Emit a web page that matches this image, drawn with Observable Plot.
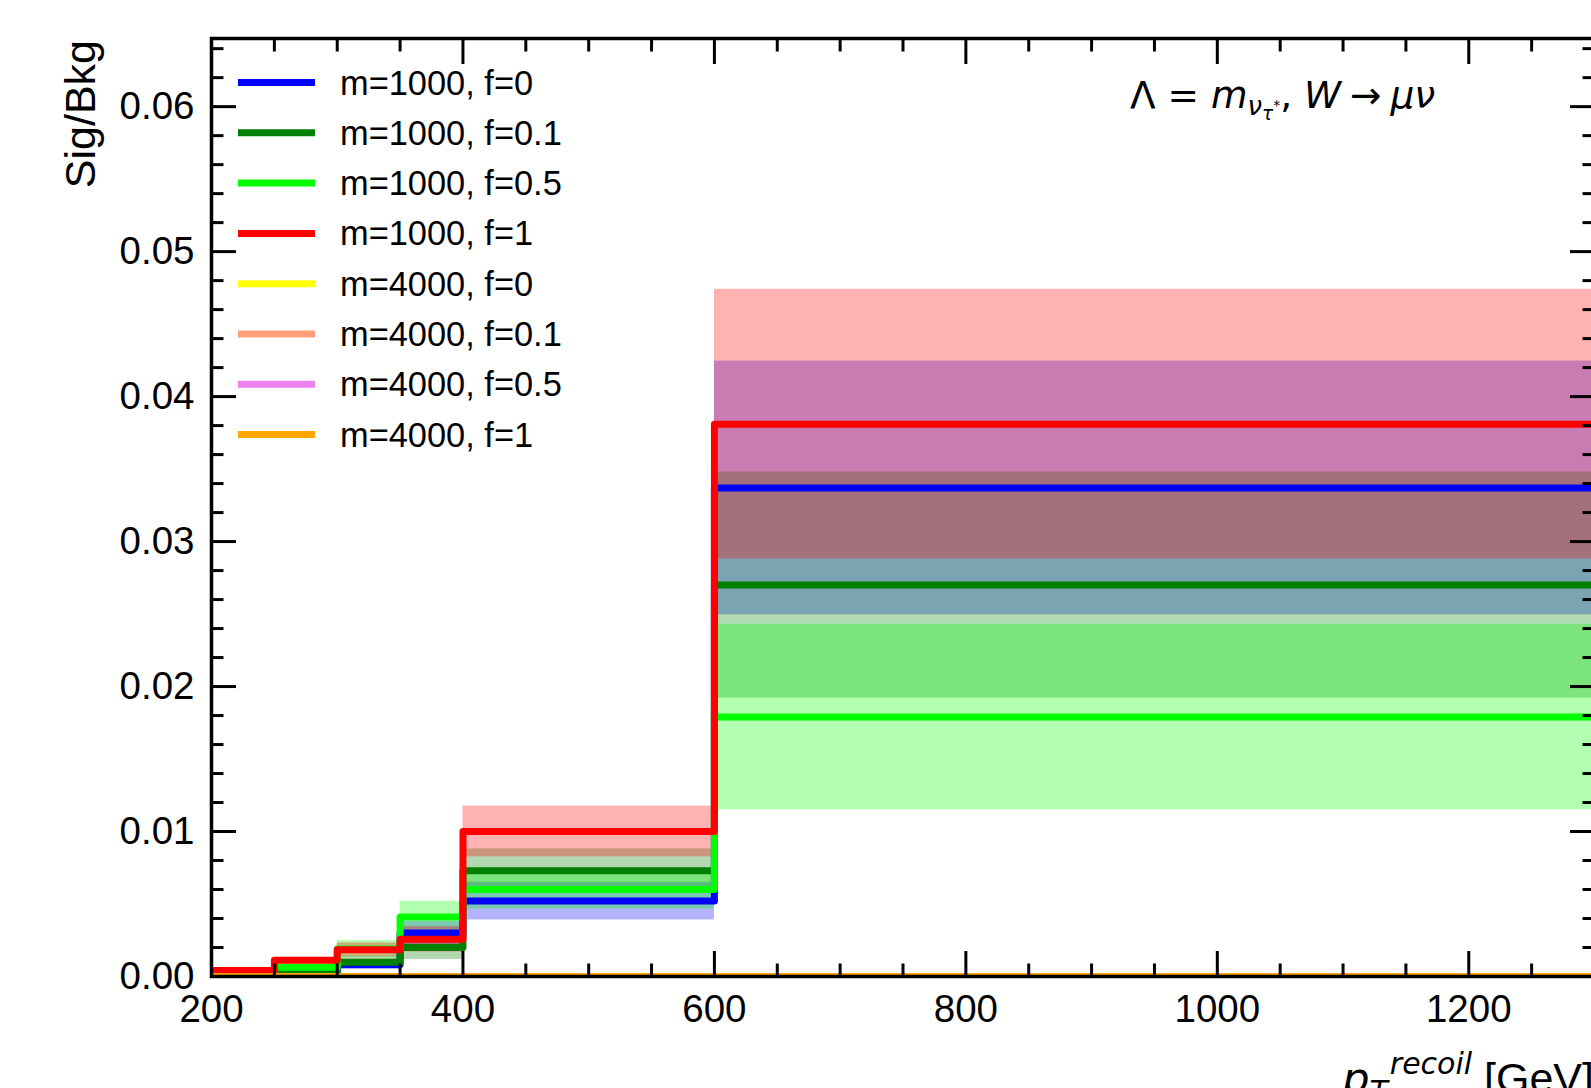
<!DOCTYPE html>
<html><head><meta charset="utf-8">
<script src="https://cdn.jsdelivr.net/npm/d3@7"></script>
<script src="https://cdn.jsdelivr.net/npm/@observablehq/plot@0.6"></script>
<style>
html,body{margin:0;padding:0;background:#fff;overflow:hidden;}
#chart svg{display:block;}
</style></head><body><div id="chart"></div>
<script>
// ---- data ----
const binEdges = [200, 250, 300, 350, 400, 600, 1300];
const seriesLabels = ["m=1000, f=0", "m=1000, f=0.1", "m=1000, f=0.5", "m=1000, f=1",
                      "m=4000, f=0", "m=4000, f=0.1", "m=4000, f=0.5", "m=4000, f=1"];
const seriesColors = ["blue", "green", "lime", "red", "yellow", "lightsalmon", "violet", "orange"];
const valM1000F0  = [0.00002, 0.0002, 0.00083, 0.0030, 0.0052, 0.0337];
const errM1000F0  = [0.00001, 0.0001, 0.00035, 0.0008, 0.0013, 0.00875];
const valM1000F01 = [0.00005, 0.00028, 0.00099, 0.0020, 0.0073, 0.0270];
const errM1000F01 = [0.00003, 0.00015, 0.0004, 0.00083, 0.0015, 0.0078];
const valM1000F05 = [0.0001, 0.00064, 0.0019, 0.0041, 0.0060, 0.0179];
const errM1000F05 = [0.00005, 0.0002, 0.00058, 0.0011, 0.00136, 0.0064];
const valM1000F1  = [0.00041, 0.00112, 0.00184, 0.00257, 0.0100, 0.0381];
const errM1000F1  = [0.0001, 0.0002, 0.00048, 0.00088, 0.00175, 0.0093];
const valM4000F0  = [0, 0, 0, 0, 0, 0];
const errM4000F0  = [0, 0, 0, 0, 0, 0];
const valM4000F01 = [0, 0, 0, 0, 0, 0];
const errM4000F01 = [0, 0, 0, 0, 0, 0];
const valM4000F05 = [0, 0, 0, 0, 0, 0];
const errM4000F05 = [0, 0, 0, 0, 0, 0];
const valM4000F1  = [0, 0, 0, 0, 0, 0];
const errM4000F1  = [0, 0, 0, 0, 0, 0];

const xMajorTicks = [200, 400, 600, 800, 1000, 1200];
const xMinorTicks = [250, 300, 350, 450, 500, 550, 650, 700, 750, 850, 900, 950, 1050, 1100, 1150, 1250, 1300];
const yMajorTicks = [0, 0.01, 0.02, 0.03, 0.04, 0.05, 0.06];
const yMinorTicks = [0.002, 0.004, 0.006, 0.008, 0.012, 0.014, 0.016, 0.018, 0.022, 0.024, 0.026, 0.028,
                     0.032, 0.034, 0.036, 0.038, 0.042, 0.044, 0.046, 0.048, 0.052, 0.054, 0.056, 0.058,
                     0.062, 0.064];
const xLabelMain = "p";
const xLabelSub = "T";
const xLabelSup = "recoil";
const xLabelUnit = " [GeV]";
const yLabel = "Sig/Bkg";

// ---- build tables ----
const vals = [valM1000F0, valM1000F01, valM1000F05, valM1000F1, valM4000F0, valM4000F01, valM4000F05, valM4000F1];
const errs = [errM1000F0, errM1000F01, errM1000F05, errM1000F1, errM4000F0, errM4000F01, errM4000F05, errM4000F1];
const series = seriesLabels.map((label, k) => ({label, color: seriesColors[k], values: vals[k], errors: errs[k]}));
const bandRows = [];
series.forEach(s => s.values.forEach((v, i) => {
  if (s.errors[i] > 0) bandRows.push({series: s.label, x1: binEdges[i], x2: binEdges[i + 1], y1: v - s.errors[i], y2: v + s.errors[i]});
}));
const stepRows = s => s.values.map((v, i) => ({x: binEdges[i], y: v}))
  .concat([{x: binEdges[binEdges.length - 1], y: s.values[s.values.length - 1]}]);

const W = 1591, H = 1088;
const FONT = "'Liberation Sans', Arial, Helvetica, sans-serif";
const MATH = "'DejaVu Sans', sans-serif";
const tickFont = 38.5;
const LW = 7;

const chart = Plot.plot({
  width: W, height: H,
  marginLeft: 211, marginRight: -3, marginTop: 38, marginBottom: 112,
  x: {domain: [200, 1300], range: [211, 1594]},
  y: {domain: [0, 0.0647], range: [976, 38]},
  color: {domain: seriesLabels, range: seriesColors},
  style: {fontFamily: FONT, background: "white", color: "black", overflow: "hidden"},
  marks: [
    Plot.rect(bandRows, {x1: "x1", x2: "x2", y1: "y1", y2: "y2", fill: "series", fillOpacity: 0.3, clip: true}),
    ...series.map(s => Plot.line(stepRows(s), {x: "x", y: "y", stroke: s.color, strokeWidth: LW, curve: "step-after", clip: true})),
    // inward ticks on all four sides
    Plot.axisX(xMajorTicks, {anchor: "bottom", tickSize: -25, fill: "none", strokeWidth: 3, label: null}),
    Plot.axisX(xMinorTicks, {anchor: "bottom", tickSize: -12.5, fill: "none", strokeWidth: 3, label: null}),
    Plot.axisX(xMajorTicks, {anchor: "top", tickSize: -25, fill: "none", strokeWidth: 3, label: null}),
    Plot.axisX(xMinorTicks, {anchor: "top", tickSize: -12.5, fill: "none", strokeWidth: 3, label: null}),
    Plot.axisY(yMajorTicks, {anchor: "left", tickSize: -25, fill: "none", strokeWidth: 3, label: null}),
    Plot.axisY(yMinorTicks, {anchor: "left", tickSize: -12.5, fill: "none", strokeWidth: 3, label: null}),
    Plot.axisY(yMajorTicks, {anchor: "right", tickSize: -25, fill: "none", strokeWidth: 3, label: null}),
    Plot.axisY(yMinorTicks, {anchor: "right", tickSize: -12.5, fill: "none", strokeWidth: 3, label: null}),
    // tick labels
    Plot.axisX(xMajorTicks, {anchor: "bottom", tickSize: 0, tickPadding: 18, fontSize: tickFont, tickFormat: d => String(d), label: null}),
    Plot.axisY(yMajorTicks, {anchor: "left", tickSize: 0, tickPadding: 17, fontSize: tickFont, tickFormat: d3.format(".2f"), label: null}),
    Plot.frame({stroke: "black", strokeWidth: 3.5})
  ]
});
document.getElementById("chart").appendChild(chart);

const svg = d3.select(chart);

// legend
const legendY0 = 82.5, legendDY = 50.3;
const lg = svg.append("g").attr("font-family", FONT).attr("font-size", 34.4).attr("text-anchor", "start");
series.forEach((s, i) => {
  const y = legendY0 + i * legendDY;
  lg.append("line").attr("x1", 238).attr("x2", 315).attr("y1", y).attr("y2", y)
    .attr("stroke", s.color).attr("stroke-width", LW);
  lg.append("text").attr("x", 340).attr("y", y + 12).attr("fill", "black").text(s.label);
});

// annotation
const ann = svg.append("text").attr("x", 1130).attr("y", 108).attr("text-anchor", "start")
  .attr("font-family", MATH).attr("font-size", 37.5).attr("fill", "black").style("white-space", "pre");
ann.append("tspan").text("Λ = ");
ann.append("tspan").attr("font-style", "italic").text("m");
ann.append("tspan").attr("font-style", "italic").attr("font-size", 26).attr("dy", 7).text("ν");
ann.append("tspan").attr("font-style", "italic").attr("font-size", 18.5).attr("dy", 5).text("τ");
ann.append("tspan").attr("font-size", 14).attr("dy", -10).text("*");
ann.append("tspan").attr("dy", -2).text(", ");
ann.append("tspan").attr("font-style", "italic").text("W");
ann.append("tspan").attr("dx", 9).text("→");
ann.append("tspan").attr("font-style", "italic").attr("dx", 9).text("μν");

// y label
svg.append("text").attr("transform", "translate(95,40) rotate(-90)")
  .attr("text-anchor", "end").attr("font-family", FONT).attr("font-size", 43).attr("fill", "black").text(yLabel);

// x label (right aligned at axis end), laid out right to left
const xEnd = 1594, xBase = 1093;
const unit = svg.append("text").attr("x", xEnd).attr("y", xBase).attr("text-anchor", "end")
  .attr("font-family", FONT).attr("font-size", 43).attr("fill", "black").style("white-space", "pre").text(xLabelUnit);
let cursor = xEnd - unit.node().getComputedTextLength();
const sup = svg.append("text").attr("x", cursor).attr("y", xBase - 19).attr("text-anchor", "end")
  .attr("font-family", MATH).attr("font-style", "italic").attr("font-size", 30).attr("fill", "black").text(xLabelSup);
cursor -= sup.node().getComputedTextLength() + 2;
const sub = svg.append("text").attr("x", cursor).attr("y", xBase + 9).attr("text-anchor", "end")
  .attr("font-family", MATH).attr("font-style", "italic").attr("font-size", 30).attr("fill", "black").text(xLabelSub);
cursor -= sub.node().getComputedTextLength();
svg.append("text").attr("x", cursor).attr("y", xBase).attr("text-anchor", "end")
  .attr("font-family", MATH).attr("font-style", "italic").attr("font-size", 43).attr("fill", "black").text(xLabelMain);
</script></body></html>
